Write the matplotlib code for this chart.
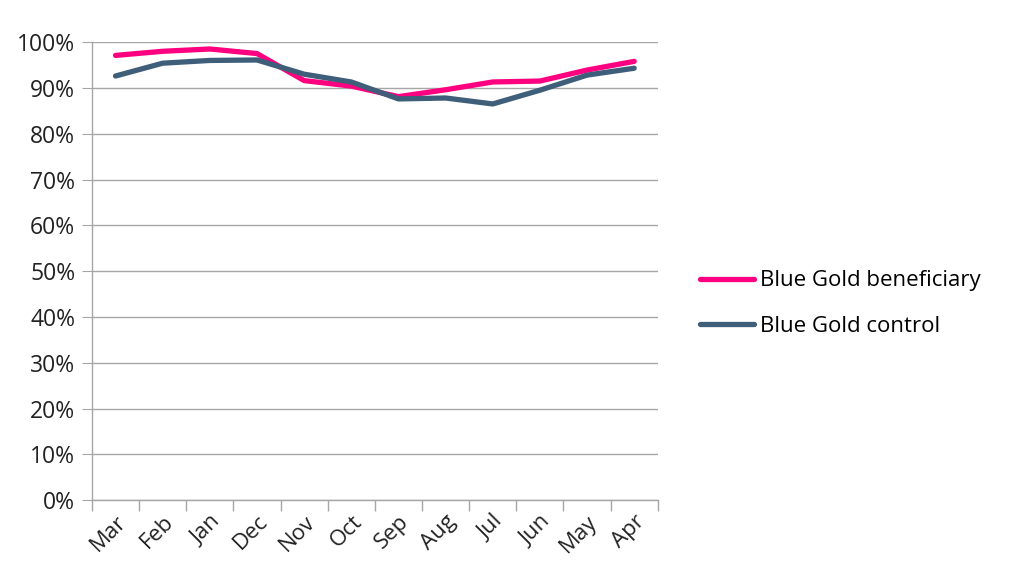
import matplotlib
matplotlib.use("Agg")
import matplotlib.pyplot as plt
import numpy as np
from matplotlib.ticker import FixedLocator, PercentFormatter

months = ["Mar", "Feb", "Jan", "Dec", "Nov", "Oct", "Sep", "Aug", "Jul", "Jun", "May", "Apr"]
beneficiary = [97.1, 98.0, 98.5, 97.5, 91.6, 90.4, 88.1, 89.6, 91.3, 91.5, 93.9, 95.8]
control = [92.6, 95.4, 96.0, 96.1, 93.0, 91.3, 87.6, 87.8, 86.5, 89.5, 92.8, 94.3]
yticks = list(range(0, 101, 10))

plt.rcParams['font.family'] = ['Open Sans', 'DejaVu Sans']
fig = plt.figure(figsize=(10.14, 5.85), dpi=100)
ax = fig.add_axes([0.0907, 0.145, 0.558, 0.783])

x = np.arange(len(months))
ax.plot(x, beneficiary, color="#FF0080", lw=3.8, label="Blue Gold beneficiary", solid_capstyle="round", zorder=3)
ax.plot(x, control, color="#3F5E79", lw=3.8, label="Blue Gold control", solid_capstyle="round", zorder=3)

ax.set_xlim(-0.5, len(months) - 0.5)
ax.set_ylim(0, 100)
ax.set_yticks(yticks)
ax.yaxis.set_major_formatter(PercentFormatter(decimals=0))
ax.grid(axis="y", color="#A6A6A6", lw=1)
ax.set_axisbelow(True)

ax.set_xticks(x)
ax.set_xticklabels(months, rotation=45, ha="right", rotation_mode="anchor")
ax.xaxis.set_minor_locator(FixedLocator(np.arange(-0.5, len(months), 1)))
ax.tick_params(axis="x", which="major", length=0, pad=8, labelsize=16, colors="#222222")
ax.tick_params(axis="x", which="minor", length=8, color="#A6A6A6", width=1)
ax.tick_params(axis="y", length=7, color="#A6A6A6", labelsize=16.5, labelcolor="#222222", pad=5)

for s in ["top", "right"]:
    ax.spines[s].set_visible(False)
for s in ["left", "bottom"]:
    ax.spines[s].set_color("#A6A6A6")
    ax.spines[s].set_linewidth(1)

leg = fig.legend(loc="center left", bbox_to_anchor=(0.671, 0.481), frameon=False,
                 fontsize=16, handlelength=2.4, labelspacing=1.1, handletextpad=0.3)
for line in leg.get_lines():
    line.set_linewidth(3.8)

fig.savefig("out.png", dpi=100)
